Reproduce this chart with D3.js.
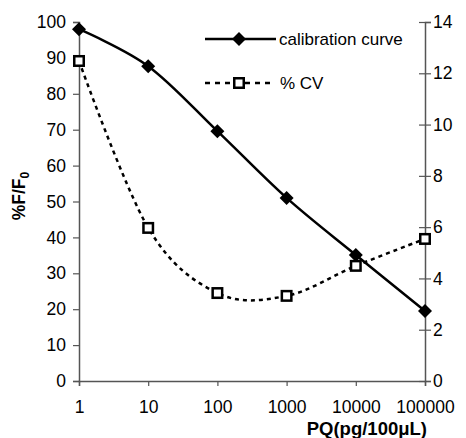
<!DOCTYPE html>
<html>
<head>
<meta charset="utf-8">
<script src="https://cdn.jsdelivr.net/npm/d3@7"></script>
<style>
  body { margin: 0; background: #fff; }
  svg text { font-family: "Liberation Sans", Arial, sans-serif; fill: #000; }
</style>
</head>
<body>
<div id="chart"></div>
<script>
// datos
const concentrations = [1, 10, 100, 1000, 10000, 100000];
const calibration = [98.0, 87.7, 69.6, 51.0, 35.1, 19.5];   // %F/F0 (eje izq.)
const cv = [12.48, 5.97, 3.43, 3.32, 4.49, 5.54];          // %CV (eje der.)
const xTicks = [1, 10, 100, 1000, 10000, 100000];
const yLeftTicks = [0, 10, 20, 30, 40, 50, 60, 70, 80, 90, 100];
const yRightTicks = [0, 2, 4, 6, 8, 10, 12, 14];

const W = 466, H = 438;
const plot = { left: 79, right: 425, top: 22, bottom: 381 };

const svg = d3.select("#chart").append("svg")
    .attr("width", W).attr("height", H);

const x = d3.scaleLog().domain([1, 100000]).range([plot.left, plot.right]);
const yL = d3.scaleLinear().domain([0, 100]).range([plot.bottom, plot.top]);
const yR = d3.scaleLinear().domain([0, 14]).range([plot.bottom, plot.top]);

const axisColor = "#555";

// eje izquierdo
const gL = svg.append("g").attr("transform", `translate(${plot.left},0)`)
    .call(d3.axisLeft(yL).tickValues(yLeftTicks).tickSize(6).tickPadding(7).tickFormat(d3.format("d")));
// eje derecho
const gR = svg.append("g").attr("transform", `translate(${plot.right},0)`)
    .call(d3.axisRight(yR).tickValues(yRightTicks).tickSize(6).tickPadding(2).tickFormat(d3.format("d")));
gR.selectAll(".tick line").attr("x1", -6);
// eje x
const gX = svg.append("g").attr("transform", `translate(0,${plot.bottom})`)
    .call(d3.axisBottom(x).tickValues(xTicks).tickSize(5).tickPadding(15).tickFormat(d3.format("d")));

[gL, gR, gX].forEach(g => {
    g.select(".domain").attr("stroke", axisColor).attr("stroke-width", 1.5);
    g.selectAll(".tick line").attr("stroke", axisColor).attr("stroke-width", 1.2);
    g.selectAll(".tick text").style("font-size", "17.5px").attr("fill", "#000");
});

// títulos de ejes
svg.append("text")
    .attr("transform", "translate(25,196) rotate(-90)")
    .attr("text-anchor", "middle")
    .style("font-size", "17.5px").style("font-weight", "bold")
    .html('%F/F<tspan dy="4" font-size="12px">0</tspan>');

svg.append("text")
    .attr("x", 427).attr("y", 435)
    .attr("text-anchor", "end")
    .style("font-size", "18.5px").style("font-weight", "bold")
    .text("PQ(pg/100μL)");

// curvas suavizadas
const curve = d3.curveCatmullRom.alpha(0);

const calLine = d3.line().x((d, i) => x(concentrations[i])).y(d => yL(d)).curve(curve);
const cvLine = d3.line().x((d, i) => x(concentrations[i])).y(d => yR(d)).curve(curve);

svg.append("path").datum(cv)
    .attr("d", cvLine).attr("fill", "none")
    .attr("stroke", "#000").attr("stroke-width", 2.5).attr("stroke-dasharray", "4,4");

svg.append("path").datum(calibration)
    .attr("d", calLine).attr("fill", "none")
    .attr("stroke", "#000").attr("stroke-width", 2.5);

const diamond = d3.symbol().type(d3.symbolDiamond2).size(125);

svg.selectAll(".cal").data(calibration).enter().append("path")
    .attr("class", "cal")
    .attr("transform", (d, i) => `translate(${x(concentrations[i])},${yL(d)})`)
    .attr("d", diamond).attr("fill", "#000");

svg.selectAll(".cv").data(cv).enter().append("rect")
    .attr("class", "cv")
    .attr("x", (d, i) => x(concentrations[i]) - 4.75)
    .attr("y", d => yR(d) - 4.75)
    .attr("width", 9.5).attr("height", 9.5)
    .attr("fill", "#fff").attr("stroke", "#000").attr("stroke-width", 2.5);

// leyenda
const leg = svg.append("g");
leg.append("line").attr("x1", 205).attr("x2", 276).attr("y1", 39).attr("y2", 39)
    .attr("stroke", "#000").attr("stroke-width", 2.5);
leg.append("path").attr("transform", "translate(239,39)").attr("d", diamond).attr("fill", "#000");
leg.append("text").attr("x", 279).attr("y", 45).style("font-size", "17px").text("calibration curve");

leg.append("line").attr("x1", 205).attr("x2", 274).attr("y1", 83).attr("y2", 83)
    .attr("stroke", "#000").attr("stroke-width", 2.5).attr("stroke-dasharray", "5,5");
leg.append("rect").attr("x", 234.25).attr("y", 78.25).attr("width", 9.5).attr("height", 9.5)
    .attr("fill", "#fff").attr("stroke", "#000").attr("stroke-width", 2.5);
leg.append("text").attr("x", 280).attr("y", 89).style("font-size", "17px").text("% CV");
</script>
</body>
</html>
